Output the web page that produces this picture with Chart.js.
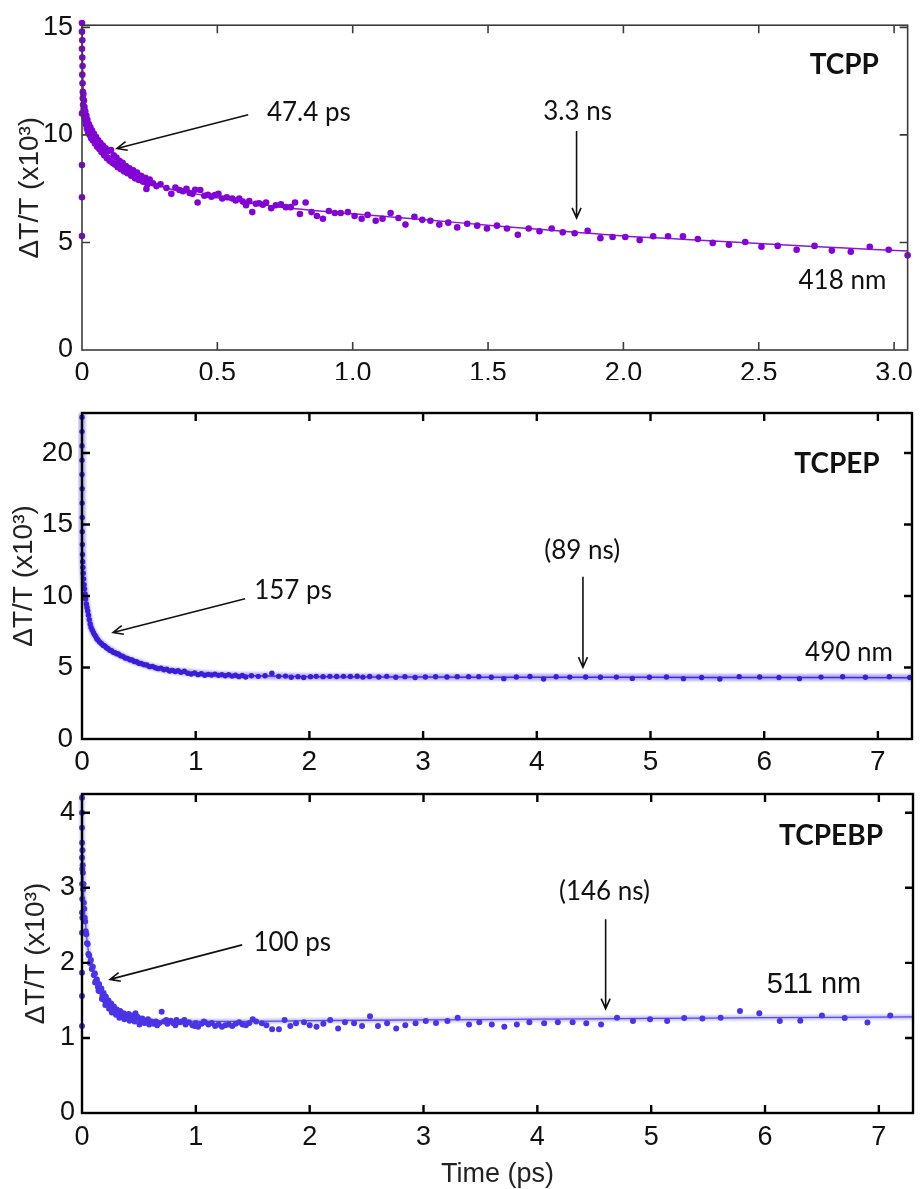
<!DOCTYPE html>
<html>
<head>
<meta charset="utf-8">
<title>Transient absorption decays</title>
<script src="https://cdn.jsdelivr.net/npm/chart.js@4.4.1/dist/chart.umd.min.js"></script>
<style>
  html, body { margin: 0; padding: 0; background: #fff; }
  body { width: 920px; height: 1189px; position: relative; overflow: hidden; }
  .panel { position: absolute; left: 0; width: 920px; }
  .panel canvas { display: block; }
</style>
</head>
<body>
<div class="panel" style="top:0;height:380px"><canvas id="tcpp" width="920" height="380"></canvas></div>
<div class="panel" style="top:380px;height:390px"><canvas id="tcpep" width="920" height="390"></canvas></div>
<div class="panel" style="top:770px;height:419px"><canvas id="tcpebp" width="920" height="419"></canvas></div>
<script>
// ---------- TCPP (418 nm) ----------
const tcppTime = [
  0, 0, 0.001, 0, 0.001, 0.002, 0.001, 0.002, 0.003, 0.003,
  0, 0, 0, 0, 0.004, 0.005, 0.006, 0.007, 0.008, 0.009,
  0.011, 0.012, 0.014, 0.016, 0.018, 0.020, 0.022, 0.025, 0.028, 0.031,
  0.034, 0.037, 0.040, 0.044, 0.048, 0.052, 0.056, 0.060, 0.064, 0.068,
  0.072, 0.077, 0.082, 0.087, 0.092, 0.097, 0.102, 0.107, 0.112, 0.117,
  0.122, 0.127, 0.132, 0.138, 0.144, 0.150, 0.156, 0.162, 0.168, 0.175,
  0.182, 0.189, 0.196, 0.203, 0.210, 0.218, 0.226, 0.234, 0.242, 0.250,
  0.238, 0.262, 0.275, 0.290, 0.312, 0.330, 0.345, 0.360, 0.373, 0.386,
  0.398, 0.408, 0.418, 0.427, 0.437, 0.452, 0.465, 0.478, 0.491, 0.504,
  0.518, 0.535, 0.555, 0.568, 0.581, 0.594, 0.606, 0.618, 0.629, 0.642,
  0.654, 0.668, 0.680, 0.699, 0.716, 0.735, 0.753, 0.771, 0.787, 0.805,
  0.826, 0.848, 0.868, 0.890, 0.912, 0.934, 0.956, 0.982, 1.007, 1.033,
  1.055, 1.085, 1.110, 1.140, 1.169, 1.195, 1.228, 1.257, 1.287, 1.320,
  1.353, 1.386, 1.423, 1.460, 1.496, 1.533, 1.570, 1.610, 1.650, 1.690,
  1.735, 1.776, 1.820, 1.868, 1.915, 1.960, 2.007, 2.060, 2.110, 2.165,
  2.220, 2.275, 2.330, 2.390, 2.450, 2.510, 2.570, 2.640, 2.706, 2.770,
  2.840, 2.910, 2.980, 3.050
];
const tcppSignal = [
  15.2, 14.8, 14.4, 14.0, 13.6, 13.2, 12.8, 12.4, 12.0, 11.7,
  11.0, 8.6, 7.1, 5.3, 11.4, 11.9, 11.2, 11.6, 10.9, 11.3,
  10.7, 11.1, 10.5, 10.9, 10.3, 10.7, 10.15, 10.5, 10.0, 10.35,
  9.85, 10.2, 9.75, 10.05, 9.6, 9.9, 9.45, 9.75, 9.35, 9.62,
  9.2, 9.5, 9.05, 9.38, 8.92, 9.25, 8.8, 9.3, 8.7, 9.05,
  8.62, 8.95, 8.5, 8.8, 8.4, 8.7, 8.3, 8.55, 8.22, 8.45,
  8.1, 8.35, 7.98, 8.25, 7.9, 8.1, 7.82, 8.0, 7.7, 7.92,
  7.49, 7.75, 7.62, 7.7, 7.53, 7.26, 7.55, 7.44, 7.38, 7.49,
  7.3, 7.26, 7.45, 6.86, 7.44, 7.17, 7.22, 7.13, 7.2, 7.26,
  7.04, 7.1, 7.04, 6.95, 7.04, 6.9, 6.73, 6.92, 6.41, 6.8,
  6.82, 6.75, 6.86, 6.59, 6.73, 6.77, 6.64, 6.64, 6.86, 6.32,
  6.86, 6.41, 6.23, 6.1, 6.46, 6.37, 6.37, 6.41, 6.23, 6.1,
  6.28, 6.01, 6.1, 6.37, 6.14, 5.83, 6.19, 6.05, 6.01, 5.83,
  5.92, 5.7, 5.87, 5.78, 5.65, 5.78, 5.65, 5.36, 5.65, 5.52,
  5.65, 5.47, 5.43, 5.54, 5.2, 5.25, 5.25, 5.11, 5.29, 5.29,
  5.29, 5.16, 4.98, 4.89, 5.02, 4.8, 4.84, 4.66, 4.84, 4.62,
  4.57, 4.8, 4.66, 4.4
];
const tcppFitTime = [0, 0.002, 0.004, 0.008, 0.015, 0.025, 0.04, 0.06, 0.08, 0.1, 0.13, 0.17, 0.2,
  0.25, 0.3, 0.35, 0.4, 0.5, 0.6, 0.7, 0.8, 0.9, 1.0, 1.2, 1.4, 1.6, 1.8, 2.0, 2.2, 2.4, 2.6, 2.8, 3.05];
const tcppFitSignal = [15.1, 13.5, 12.3, 11.4, 10.8, 10.3, 9.85, 9.5, 9.25, 9.05, 8.7, 8.35, 8.1,
  7.8, 7.58, 7.42, 7.3, 7.08, 6.88, 6.7, 6.55, 6.44, 6.33, 6.12, 5.91, 5.7, 5.5, 5.3, 5.16, 5.02, 4.88, 4.75, 4.6];
const tcppXTicks = [0, 0.5, 1.0, 1.5, 2.0, 2.5, 3.0];
const tcppYTicks = [0, 5, 10, 15];

// ---------- TCPEP (490 nm) ----------
const tcpepTime = [
  0, 0, 0, 0, 0, 0.001, 0.001, 0.002, 0.002, 0.003,
  0.004, 0.006, 0.008, 0.011, 0.014, 0.018, 0.022, 0.027, 0.032, 0.038,
  0.044, 0.050, 0.057, 0.064, 0.072, 0.080, 0.090, 0.100, 0.110, 0.120,
  0.130, 0.140, 0.155, 0.170, 0.185, 0.200, 0.215, 0.230, 0.245, 0.260,
  0.275, 0.290, 0.305, 0.320, 0.340, 0.360, 0.380, 0.400, 0.420, 0.440,
  0.460, 0.480, 0.500, 0.520, 0.545, 0.570, 0.595, 0.620, 0.645, 0.670,
  0.695, 0.720, 0.745, 0.770, 0.795, 0.820, 0.845, 0.870, 0.900, 0.930,
  0.960, 0.990, 1.020, 1.050, 1.080, 1.110, 1.140, 1.170, 1.200, 1.230,
  1.260, 1.290, 1.320, 1.350, 1.380, 1.410, 1.440, 1.490, 1.550, 1.610,
  1.670, 1.730, 1.790, 1.840, 1.900, 1.950, 2.010, 2.060, 2.120, 2.180,
  2.240, 2.300, 2.360, 2.420, 2.470, 2.530, 2.610, 2.680, 2.760, 2.840,
  2.930, 3.020, 3.110, 3.210, 3.300, 3.400, 3.490, 3.600, 3.710, 3.820,
  3.940, 4.060, 4.170, 4.290, 4.430, 4.560, 4.700, 4.840, 4.990, 5.140,
  5.290, 5.450, 5.610, 5.780, 5.960, 6.130, 6.310, 6.500, 6.690, 6.890,
  7.100, 7.280
];
const tcpepSignal = [
  22.5, 21.5, 20.5, 19.5, 18.5, 17.5, 16.5, 15.5, 14.5, 13.6,
  12.9, 12.4, 12.0, 11.6, 11.2, 10.8, 10.5, 10.15, 9.8, 9.45,
  9.2, 8.95, 8.65, 8.35, 8.05, 7.8, 7.62, 7.45, 7.3, 7.18,
  7.02, 6.93, 6.78, 6.68, 6.56, 6.5, 6.38, 6.32, 6.2, 6.18,
  6.06, 6.04, 5.96, 5.94, 5.82, 5.78, 5.66, 5.64, 5.54, 5.52,
  5.42, 5.4, 5.3, 5.28, 5.2, 5.18, 5.06, 5.08, 4.98, 4.92,
  4.96, 4.84, 4.88, 4.76, 4.8, 4.72, 4.78, 4.66, 4.74, 4.6,
  4.55, 4.62, 4.5, 4.56, 4.46, 4.52, 4.48, 4.54, 4.45, 4.5,
  4.42, 4.5, 4.4, 4.46, 4.36, 4.44, 4.34, 4.42, 4.38, 4.42,
  4.6, 4.38, 4.4, 4.32, 4.36, 4.3, 4.36, 4.38, 4.36, 4.38,
  4.37, 4.38, 4.37, 4.39, 4.33, 4.37, 4.34, 4.38, 4.32, 4.36,
  4.3, 4.34, 4.35, 4.34, 4.36, 4.36, 4.36, 4.32, 4.22, 4.34,
  4.37, 4.2, 4.35, 4.33, 4.34, 4.32, 4.33, 4.24, 4.32, 4.34,
  4.22, 4.3, 4.2, 4.36, 4.34, 4.3, 4.22, 4.33, 4.35, 4.32,
  4.35, 4.3
];
const tcpepFitTime = [0, 0.001, 0.003, 0.008, 0.02, 0.04, 0.06, 0.08, 0.1, 0.15, 0.2, 0.25, 0.3, 0.4,
  0.5, 0.6, 0.7, 0.8, 1.0, 1.2, 1.5, 2.0, 3.0, 4.0, 5.0, 6.0, 7.3];
const tcpepFitSignal = [22.8, 17.0, 13.5, 12.0, 10.65, 9.35, 8.5, 7.8, 7.45, 6.85, 6.5, 6.22, 6.0, 5.62,
  5.32, 5.08, 4.9, 4.77, 4.6, 4.5, 4.42, 4.36, 4.33, 4.32, 4.31, 4.3, 4.29];
const tcpepXTicks = [0, 1, 2, 3, 4, 5, 6, 7];
const tcpepYTicks = [0, 5, 10, 15, 20];

// ---------- TCPEBP (511 nm) ----------
const tcpebpTime = [
  0, 0, 0, 0.001, 0, 0.002, 0.001, 0.002, 0, 0,
  0.003, 0, 0, 0, 0.004, 0.006, 0.008, 0.010, 0.013, 0.016,
  0.020, 0.024, 0.028, 0.033, 0.038, 0.044, 0.050, 0.056, 0.063, 0.070,
  0.078, 0.086, 0.095, 0.104, 0.113, 0.122, 0.131, 0.140, 0.150, 0.160,
  0.170, 0.180, 0.190, 0.200, 0.210, 0.220, 0.232, 0.244, 0.256, 0.268,
  0.280, 0.293, 0.306, 0.320, 0.335, 0.350, 0.365, 0.380, 0.395, 0.410,
  0.425, 0.440, 0.455, 0.470, 0.490, 0.510, 0.530, 0.550, 0.570, 0.590,
  0.610, 0.630, 0.650, 0.680, 0.720, 0.700, 0.750, 0.780, 0.800, 0.830,
  0.860, 0.880, 0.910, 0.940, 0.970, 1.000, 1.020, 1.050, 1.080, 1.110,
  1.140, 1.170, 1.200, 1.230, 1.260, 1.290, 1.320, 1.350, 1.380, 1.410,
  1.440, 1.470, 1.500, 1.530, 1.580, 1.620, 1.670, 1.730, 1.780, 1.830,
  1.880, 1.950, 2.000, 2.060, 2.120, 2.180, 2.250, 2.310, 2.390, 2.460,
  2.530, 2.600, 2.680, 2.760, 2.840, 2.930, 3.020, 3.110, 3.210, 3.300,
  3.400, 3.490, 3.600, 3.710, 3.820, 3.930, 4.060, 4.180, 4.310, 4.430,
  4.560, 4.700, 4.840, 4.990, 5.140, 5.290, 5.450, 5.610, 5.780, 5.950,
  6.130, 6.310, 6.500, 6.700, 6.900, 7.100,
  0.115, 0.145, 0.175, 0.205, 0.238, 0.262, 0.298, 0.328, 0.372, 0.418,
  0.462, 0.505, 0.54, 0.58, 0.66, 0.74, 0.82, 0.9, 0.99, 1.07
];
const tcpebpSignal = [
  4.2, 4.0, 3.8, 3.6, 3.4, 3.25, 3.05, 2.85, 2.67, 2.4,
  2.6, 1.87, 1.56, 1.16, 3.5, 3.3, 3.2, 2.98, 3.05, 2.8,
  2.72, 2.6, 2.55, 2.42, 2.38, 2.26, 2.25, 2.12, 2.1, 2.0,
  2.04, 1.92, 1.95, 1.84, 1.86, 1.76, 1.78, 1.68, 1.72, 1.62,
  1.66, 1.56, 1.6, 1.5, 1.55, 1.47, 1.5, 1.42, 1.46, 1.38,
  1.42, 1.35, 1.38, 1.32, 1.36, 1.3, 1.33, 1.28, 1.31, 1.32,
  1.27, 1.3, 1.26, 1.33, 1.28, 1.24, 1.26, 1.2, 1.23, 1.18,
  1.22, 1.19, 1.22, 1.2, 1.22, 1.35, 1.19, 1.23, 1.2, 1.24,
  1.21, 1.22, 1.18, 1.21, 1.17, 1.2, 1.15, 1.19, 1.21, 1.18,
  1.2, 1.16, 1.18, 1.15, 1.17, 1.18, 1.16, 1.19, 1.21, 1.18,
  1.17, 1.2, 1.25, 1.22, 1.195, 1.17, 1.115, 1.115, 1.24, 1.16,
  1.195, 1.21, 1.17, 1.15, 1.19, 1.24, 1.125, 1.21, 1.195, 1.16,
  1.29, 1.16, 1.195, 1.125, 1.17, 1.195, 1.225, 1.2, 1.225, 1.27,
  1.18, 1.21, 1.18, 1.15, 1.18, 1.21, 1.195, 1.21, 1.21, 1.195,
  1.18, 1.27, 1.225, 1.25, 1.225, 1.265, 1.26, 1.27, 1.36, 1.33,
  1.225, 1.23, 1.3, 1.265, 1.205, 1.3,
  1.74, 1.63, 1.52, 1.44, 1.39, 1.34, 1.31, 1.27, 1.25, 1.23,
  1.22, 1.18, 1.21, 1.25, 1.17, 1.24, 1.17, 1.24, 1.16, 1.22
];
const tcpebpFitTime = [0, 0.003, 0.006, 0.01, 0.02, 0.035, 0.05, 0.07, 0.1, 0.15, 0.2, 0.25, 0.3, 0.4,
  0.5, 0.6, 0.8, 1.0, 1.5, 2.0, 3.0, 4.0, 5.0, 6.0, 7.3];
const tcpebpFitSignal = [4.25, 3.75, 3.4, 3.1, 2.75, 2.45, 2.22, 2.05, 1.9, 1.68, 1.54, 1.44, 1.37, 1.29,
  1.25, 1.23, 1.22, 1.22, 1.22, 1.23, 1.24, 1.25, 1.26, 1.27, 1.28];
const tcpebpXTicks = [0, 1, 2, 3, 4, 5, 6, 7];
const tcpebpYTicks = [0, 1, 2, 3, 4];

const yTitle = 'ΔT/T (x10³)';
const SANS = "'Liberation Sans', Arial, sans-serif";
const HUMAN = "Lato, 'Open Sans', sans-serif";

function pairs(xs, ys) { return xs.map((x, i) => ({ x, y: ys[i] })); }

// Closed box around the plot area with inward tick marks on all four sides
const framePlugin = {
  id: 'frame',
  afterDatasetsDraw(chart, args, opts) {
    const { ctx, chartArea: a, scales: { x, y } } = chart;
    ctx.save();
    ctx.strokeStyle = opts.color;
    ctx.lineWidth = opts.width;
    ctx.lineCap = 'butt';
    ctx.beginPath();
    const L = opts.tick;
    x.ticks.forEach(t => {
      const px = x.getPixelForValue(t.value);
      if (px <= a.left + 2 || px >= a.right - 2) return;
      ctx.moveTo(px, a.bottom); ctx.lineTo(px, a.bottom - L);
      ctx.moveTo(px, a.top); ctx.lineTo(px, a.top + L);
    });
    y.ticks.forEach(t => {
      const py = y.getPixelForValue(t.value);
      if (py >= a.bottom - 2 || py <= a.top + 2) return;
      ctx.moveTo(a.left, py); ctx.lineTo(a.left + L, py);
      ctx.moveTo(a.right, py); ctx.lineTo(a.right - L, py);
    });
    ctx.stroke();
    ctx.strokeRect(a.left, a.top, a.right - a.left, a.bottom - a.top);
    ctx.restore();
  }
};

// Text labels and arrows placed in data coordinates
const notesPlugin = {
  id: 'notes',
  afterDraw(chart, args, opts) {
    const { ctx, scales: { x, y } } = chart;
    ctx.save();
    (opts.items || []).forEach(n => {
      if (n.text) {
        ctx.font = n.font;
        ctx.fillStyle = '#111';
        ctx.textAlign = 'center';
        ctx.textBaseline = 'middle';
        ctx.fillText(n.text, x.getPixelForValue(n.x), y.getPixelForValue(n.y));
      } else if (n.from) {
        const x1 = x.getPixelForValue(n.from[0]), y1 = y.getPixelForValue(n.from[1]);
        const x2 = x.getPixelForValue(n.to[0]), y2 = y.getPixelForValue(n.to[1]);
        const ang = Math.atan2(y2 - y1, x2 - x1);
        const h = 11, spread = 0.42;
        ctx.strokeStyle = '#111';
        ctx.lineWidth = 1.6;
        ctx.beginPath();
        ctx.moveTo(x1, y1); ctx.lineTo(x2, y2);
        ctx.moveTo(x2 - h * Math.cos(ang - spread), y2 - h * Math.sin(ang - spread));
        ctx.lineTo(x2, y2);
        ctx.lineTo(x2 - h * Math.cos(ang + spread), y2 - h * Math.sin(ang + spread));
        ctx.stroke();
      }
    });
    ctx.restore();
  }
};

// Soft halo for the fitted curves drawn as wide translucent bands
const haloPlugin = {
  id: 'halo',
  beforeDatasetDraw(chart, args) {
    if (args.meta._dataset.halo) { chart.ctx.save(); chart.ctx.filter = 'blur(1.2px)'; }
  },
  afterDatasetDraw(chart, args) {
    if (args.meta._dataset.halo) chart.ctx.restore();
  }
};

function makePanel(id, p) {
  const datasets = [];
  datasets.push({
    type: 'scatter', data: pairs(p.time, p.signal), order: 0,
    backgroundColor: p.pointColor, borderWidth: 0, pointRadius: p.pointRadius, clip: 6
  });
  datasets.push({
    type: 'line', data: pairs(p.fitTime, p.fitSignal), order: 1,
    borderColor: p.lineColor, borderWidth: p.lineWidth, pointRadius: 0, tension: 0.3, clip: 4
  });
  if (p.bandColor) {
    datasets.push({
      type: 'line', data: pairs(p.fitTime, p.fitSignal), order: 2, halo: true,
      borderColor: p.bandColor, borderWidth: p.bandWidth, pointRadius: 0, tension: 0.3, clip: 4
    });
  }
  return new Chart(document.getElementById(id), {
    type: 'scatter',
    data: { datasets },
    plugins: [framePlugin, notesPlugin, haloPlugin],
    options: {
      responsive: false,
      animation: false,
      devicePixelRatio: 1,
      layout: { padding: { top: p.padTop, right: p.padRight, left: 0, bottom: 0 } },
      plugins: {
        legend: { display: false },
        tooltip: { enabled: false },
        frame: { color: p.frameColor, width: p.frameWidth, tick: 8 },
        notes: { items: p.notes }
      },
      scales: {
        x: {
          type: 'linear', min: 0, max: p.xMax,
          afterFit(s) { s.height = p.xHeight; },
          afterBuildTicks(s) { s.ticks = p.xTicks.map(v => ({ value: v })); },
          grid: { display: false, drawTicks: false },
          border: { display: false },
          ticks: {
            font: { family: SANS, size: p.tickSize }, color: '#111', padding: p.xPad,
            maxRotation: 0, autoSkip: false,
            callback: p.xFormat
          },
          title: p.xTitle ? {
            display: true, text: p.xTitle, color: '#222',
            font: { family: SANS, size: 27, lineHeight: 1 }, padding: { top: 0, bottom: 1 }
          } : { display: false }
        },
        y: {
          type: 'linear', min: 0, max: p.yMax,
          afterFit(s) { s.width = 82; },
          afterBuildTicks(s) { s.ticks = p.yTicks.map(v => ({ value: v })); },
          grid: { display: false, drawTicks: false },
          border: { display: false },
          ticks: {
            font: { family: SANS, size: p.tickSize }, color: '#111', padding: p.yPad, autoSkip: false
          },
          title: {
            display: true, text: yTitle, color: '#222',
            font: { family: SANS, size: 28, lineHeight: 1 }, padding: { top: p.yTitleOffset, bottom: 0 }
          }
        }
      }
    }
  });
}

makePanel('tcpp', {
  time: tcppTime, signal: tcppSignal, fitTime: tcppFitTime, fitSignal: tcppFitSignal,
  xTicks: tcppXTicks, yTicks: tcppYTicks, xMax: 3.05, yMax: 15.1,
  xFormat: v => (v === 0 ? '0' : v.toFixed(1)),
  pointColor: '#8204d4', pointRadius: 3.3, lineColor: '#8a1ad8', lineWidth: 1.5,
  frameColor: '#3c3c3c', frameWidth: 1.6,
  padTop: 15, padRight: 8, xHeight: 30, tickSize: 27, xPad: 7, yPad: 9, yTitleOffset: 16,
  notes: [
    { text: 'TCPP', x: 2.816, y: 13.27, font: `bold 28px ${HUMAN}` },
    { text: '47.4 ps', x: 0.838, y: 11.03, font: `26px ${HUMAN}` },
    { from: [0.614, 10.94], to: [0.129, 9.37] },
    { text: '3.3 ns', x: 1.831, y: 11.08, font: `26px ${HUMAN}` },
    { from: [1.827, 10.18], to: [1.827, 6.14] },
    { text: '418 nm', x: 2.809, y: 3.23, font: `26px ${HUMAN}` }
  ]
});

makePanel('tcpep', {
  time: tcpepTime, signal: tcpepSignal, fitTime: tcpepFitTime, fitSignal: tcpepFitSignal,
  xTicks: tcpepXTicks, yTicks: tcpepYTicks, xMax: 7.3, yMax: 22.8,
  xFormat: v => String(v),
  pointColor: '#3a1ed6', pointRadius: 2.7, lineColor: '#3d2be0', lineWidth: 1.5,
  bandColor: 'rgba(95, 80, 235, 0.45)', bandWidth: 7,
  frameColor: '#000', frameWidth: 2.4,
  padTop: 33, padRight: 8, xHeight: 31, tickSize: 28, xPad: 6, yPad: 9, yTitleOffset: 10,
  notes: [
    { text: 'TCPEP', x: 6.64, y: 19.26, font: `bold 28px ${HUMAN}` },
    { text: '157 ps', x: 1.856, y: 10.37, font: `26px ${HUMAN}` },
    { from: [1.434, 9.81], to: [0.273, 7.45] },
    { text: '(89 ns)', x: 4.40, y: 13.15, font: `26px ${HUMAN}` },
    { from: [4.406, 11.34], to: [4.406, 5.02] },
    { text: '490 nm', x: 6.746, y: 6.06, font: `26px ${HUMAN}` }
  ]
});

makePanel('tcpebp', {
  time: tcpebpTime, signal: tcpebpSignal, fitTime: tcpebpFitTime, fitSignal: tcpebpFitSignal,
  xTicks: tcpebpXTicks, yTicks: tcpebpYTicks, xMax: 7.3, yMax: 4.25,
  xFormat: v => String(v),
  pointColor: '#4a34e4', pointRadius: 3, lineColor: '#5a4ae8', lineWidth: 1.3,
  bandColor: 'rgba(120, 110, 240, 0.4)', bandWidth: 5,
  frameColor: '#000', frameWidth: 2.4,
  padTop: 24, padRight: 7, xHeight: 76, tickSize: 27, xPad: 8, yPad: 7, yTitleOffset: 22,
  xTitle: 'Time (ps)',
  notes: [
    { text: 'TCPEBP', x: 6.58, y: 3.69, font: `bold 28px ${HUMAN}` },
    { text: '100 ps', x: 1.847, y: 2.27, font: `26px ${HUMAN}` },
    { from: [1.407, 2.24], to: [0.246, 1.78] },
    { text: '(146 ns)', x: 4.59, y: 2.95, font: `26px ${HUMAN}` },
    { from: [4.60, 2.58], to: [4.60, 1.39] },
    { text: '511 nm', x: 6.43, y: 1.70, font: `29px ${SANS}` }
  ]
});
</script>
</body>
</html>
